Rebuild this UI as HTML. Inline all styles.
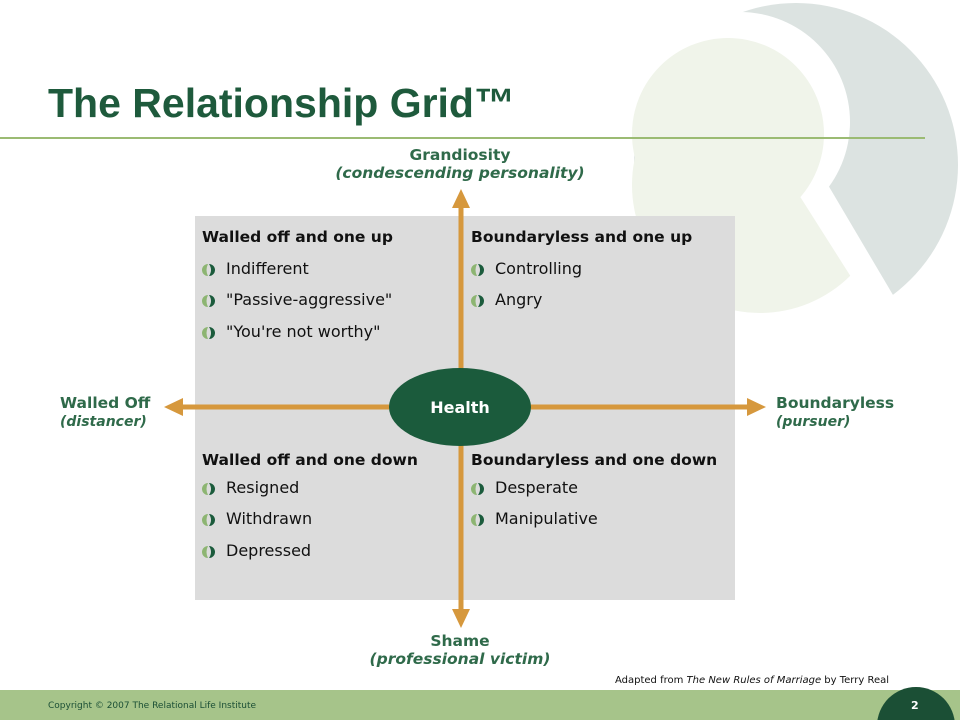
<!DOCTYPE html>
<html style="overflow:hidden"><head><meta charset="utf-8"><style>
html,body{margin:0;width:960px;height:720px;overflow:hidden}
body{position:relative;background:#fff;font-family:"DejaVu Sans","Liberation Sans",sans-serif}
.t{position:absolute;white-space:nowrap}
.h{font-weight:bold;font-size:15.5px;color:#111}
.b{font-size:16px;color:#111}
.ax{color:#2f6a4a;font-weight:bold;font-size:15.5px;text-align:center}
.ax i{font-weight:bold}
</style></head><body>
<svg width="960" height="720" style="position:absolute;left:0;top:0">
<defs><clipPath id="gc"><polygon points="600,0 780,0 780,165 872,310 600,330"/></clipPath></defs>
<circle cx="796" cy="165" r="162" fill="#dce3e1"/>
<circle cx="740" cy="122" r="110" fill="#fff"/>
<polygon points="818,168 893,295 880,340 600,340 600,168" fill="#fff"/>
<circle cx="728" cy="134" r="96" fill="#f0f4ea"/>
<circle cx="760" cy="185" r="128" fill="#f0f4ea" clip-path="url(#gc)"/>
<line x1="0" y1="138" x2="925" y2="138" stroke="#9bbb73" stroke-width="2"/>
<rect x="195" y="216" width="540" height="384" fill="#dcdcdc"/>
<g stroke="#d6983d" stroke-width="5">
<line x1="461" y1="205" x2="461" y2="612"/>
<line x1="180" y1="407" x2="750" y2="407"/>
</g>
<g fill="#d6983d">
<polygon points="461,189 452,208 470,208"/>
<polygon points="461,628 452,609 470,609"/>
<polygon points="164,407 183,398 183,416"/>
<polygon points="766,407 747,398 747,416"/>
</g>
<ellipse cx="460" cy="407" rx="71" ry="39" fill="#1b5b3c"/>
<rect x="0" y="690" width="960" height="30" fill="#a6c48a"/>
<circle cx="916" cy="726" r="39" fill="#1b4f35"/>
</svg>
<div class="t" style="left:48px;top:80px;font-size:41px;font-weight:bold;color:#1e5a3c;font-family:'Liberation Sans',sans-serif">The Relationship Grid™</div>
<div class="t ax" style="left:300px;width:320px;top:146px">Grandiosity<br><i>(condescending personality)</i></div>
<div class="t ax" style="left:300px;width:320px;top:632px">Shame<br><i>(professional victim)</i></div>
<div class="t ax" style="left:60px;top:394px;text-align:left">Walled Off<br><i style="font-size:14px">(distancer)</i></div>
<div class="t ax" style="left:776px;top:394px;text-align:left">Boundaryless<br><i style="font-size:14px">(pursuer)</i></div>
<div class="t" style="left:390px;width:140px;top:398px;text-align:center;color:#fff;font-weight:bold;font-size:16px">Health</div>
<div class="t h" style="left:202px;top:228px">Walled off and one up</div>
<div class="t h" style="left:471px;top:228px">Boundaryless and one up</div>
<div class="t h" style="left:202px;top:451px">Walled off and one down</div>
<div class="t h" style="left:471px;top:451px">Boundaryless and one down</div>
<div id="bl"></div>
<script>
var items=[[202,259,"Indifferent"],[202,290,"\"Passive-aggressive\""],[202,322,"\"You're not worthy\""],[471,259,"Controlling"],[471,290,"Angry"],[202,478,"Resigned"],[202,509,"Withdrawn"],[202,541,"Depressed"],[471,478,"Desperate"],[471,509,"Manipulative"]];
var h="";items.forEach(function(a){h+='<svg class="t" style="left:'+a[0]+'px;top:'+(a[1]+4)+'px" width="14" height="14"><path d="M6 1 A6 6 0 0 0 6 13 Q3 7 6 1Z" fill="#8db572"/><path d="M7 1 A6 6 0 0 1 7 13 Q11 7 7 1Z" fill="#1b5b3c"/></svg><div class="t b" style="left:'+(a[0]+24)+'px;top:'+a[1]+'px">'+a[2]+'</div>';});
document.getElementById("bl").innerHTML=h;
</script>
<div class="t" style="left:615px;top:675px;font-size:10px;color:#111">Adapted from <i>The New Rules of Marriage</i> by Terry Real</div>
<div class="t" style="left:48px;top:701px;font-size:9px;color:#1b4f35">Copyright © 2007 The Relational Life Institute</div>
<div class="t" style="left:911px;top:699px;font-size:11px;color:#fff;font-weight:bold">2</div>
</body></html>
